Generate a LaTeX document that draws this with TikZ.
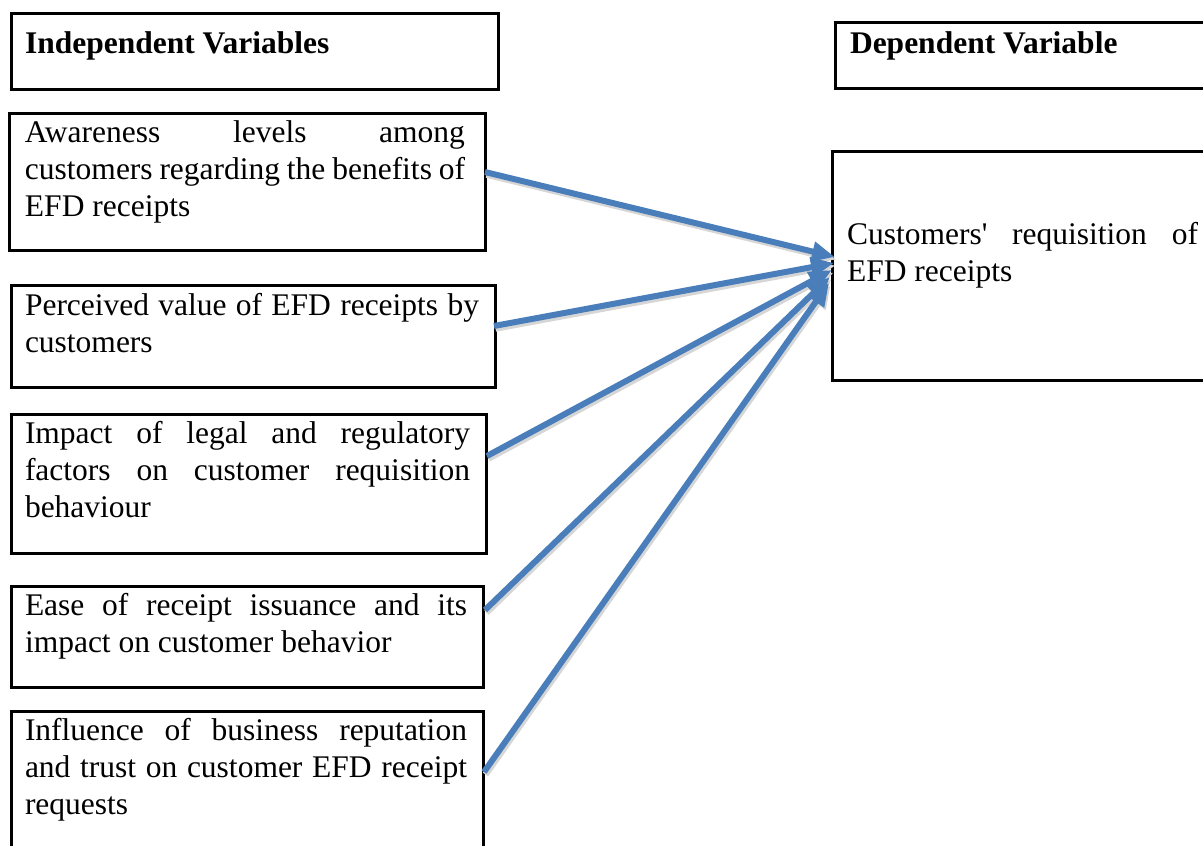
\documentclass[tikz,border=0pt]{standalone}
\usepackage{fontspec}
\setmainfont{Liberation Serif}
\usetikzlibrary{arrows.meta,calc}
\definecolor{arrblue}{RGB}{74,126,187}
% #1 box width, #2 box height, #3 left text pad, #4 first baseline offset, #5 content
\newcommand\bxt[5]{\parbox[t][#2][t]{#1}{\vspace*{\dimexpr#4-25.9pt\relax}\leftskip=#3\relax\noindent\strut#5\par}}
\newcommand\jl[2]{\makebox[#1][s]{#2}}
\begin{document}
\begin{tikzpicture}[x=1pt,y=-1pt,
  font=\fontsize{31.5}{37}\selectfont,
  vbox/.style={draw=black,line width=3pt,inner sep=0pt,outer sep=0pt,anchor=north west},
  arr/.style={draw=arrblue,line width=6pt,-{Triangle[length=23pt,width=19pt]}},
  arrsh/.style={draw=black!16,line width=6.5pt,-{Triangle[length=23pt,width=19pt]}}]
\useasboundingbox (0,0) rectangle (1203,846);
\clip (0,0) rectangle (1203,846);
% left column
\node[vbox] (iv) at (11,13) {\bxt{487pt}{76pt}{14pt}{40pt}{\textbf{Independent Variables}}};
\node[vbox] (b1) at (9,113) {\bxt{476pt}{137pt}{16pt}{29pt}{\jl{440pt}{Awareness levels among}\\\jl{440pt}{customers regarding the benefits of}\\EFD receipts}};
\node[vbox] (b2) at (11,285) {\bxt{484pt}{102pt}{14pt}{30pt}{\jl{454pt}{Perceived value of EFD receipts by}\\customers}};
\node[vbox] (b3) at (11,414) {\bxt{475pt}{139pt}{14pt}{29pt}{\jl{445pt}{Impact of legal and regulatory}\\\jl{445pt}{factors on customer requisition}\\behaviour}};
\node[vbox] (b4) at (11,586) {\bxt{472pt}{101pt}{14pt}{29pt}{\jl{442pt}{Ease of receipt issuance and its}\\impact on customer behavior}};
\node[vbox] (b5) at (11,711) {\bxt{472pt}{180pt}{14pt}{29pt}{\jl{442pt}{Influence of business reputation}\\\jl{442pt}{and trust on customer EFD receipt}\\requests}};
% right column
\node[vbox] (dv) at (835,22) {\bxt{400pt}{66pt}{15pt}{31pt}{\textbf{Dependent Variable}}};
\node[vbox] (d1) at (832,151) {\bxt{400pt}{229pt}{15pt}{93pt}{\jl{351pt}{Customers\textquotesingle{} requisition of}\\EFD receipts}};
% connector end points
\coordinate (s1) at ($(b1.north east)+(0,59)$);
\coordinate (s2) at ($(b2.north east)+(-1,41)$);
\coordinate (s3) at ($(b3.north east)+(1,42)$);
\coordinate (s4) at ($(b4.north east)+(2,24)$);
\coordinate (s5) at ($(b5.north east)+(1,61)$);
\coordinate (t1) at ($(d1.north west)+(3,106)$);
\coordinate (t2) at ($(d1.north west)+(2,112)$);
\coordinate (t3) at ($(d1.north west)+(0,119)$);
\coordinate (t4) at ($(d1.north west)+(-2,126)$);
\coordinate (t5) at ($(d1.north west)+(-3,132)$);
% shadows
\foreach \i in {1,...,5}{\draw[arrsh] ($(s\i)+(1.5,2.5)$) -- ($(t\i)+(1.5,2.5)$);}
% arrows
\foreach \i in {1,...,5}{\draw[arr] (s\i) -- (t\i);}
\end{tikzpicture}
\end{document}
